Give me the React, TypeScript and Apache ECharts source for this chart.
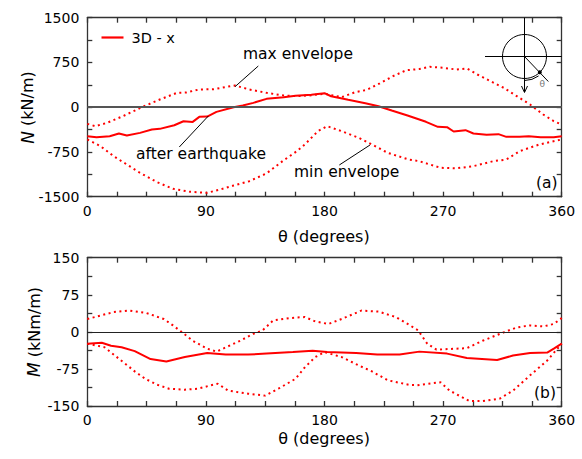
import React, { useEffect, useRef } from "react";
import * as echarts from "echarts";

// ---------- data ----------
const thetaNAfter = [0, 7, 17, 24, 30, 40, 49, 55, 66, 73, 80, 85, 91, 98, 111, 118, 126, 136, 149, 158, 170, 180, 185, 198, 211, 221, 231, 243, 257, 266, 273, 278, 287, 293, 303, 312, 318, 328, 335, 344, 354, 360];
const nAfter = [-486, -503, -486, -441, -474, -430, -374, -363, -302, -235, -246, -162, -157, -78, 0, 28, 73, 140, 168, 190, 207, 235, 184, 124, 67, 17, -55, -139, -245, -329, -335, -407, -385, -441, -463, -452, -497, -497, -486, -503, -503, -486];

const thetaNMax = [0, 6, 15, 27, 42, 55, 68, 75, 85, 96, 106, 112, 123, 136, 149, 159, 170, 180, 193, 203, 212, 222, 232, 242, 252, 260, 270, 280, 288, 296, 306, 316, 326, 336, 346, 354, 360];
const nMax = [-279, -318, -262, -151, 6, 129, 241, 246, 297, 302, 342, 364, 297, 241, 196, 185, 200, 225, 168, 250, 290, 400, 520, 620, 640, 677, 660, 632, 649, 548, 436, 325, 184, 45, -122, -235, -290];

const thetaNMin = [0, 10, 20, 30, 40, 53, 65, 78, 91, 101, 111, 123, 136, 149, 159, 165, 175, 182, 193, 206, 216, 228, 244, 252, 268, 280, 293, 308, 318, 328, 343, 360];
const nMin = [-541, -653, -821, -960, -1100, -1257, -1368, -1418, -1435, -1379, -1312, -1240, -1110, -890, -737, -625, -402, -318, -402, -513, -625, -765, -877, -905, -1016, -1025, -988, -905, -877, -737, -625, -541];

const thetaMAfter = [0, 11, 18, 26, 36, 48, 60, 74, 91, 105, 122, 136, 156, 171, 182, 204, 220, 237, 252, 273, 288, 311, 323, 336, 349, 354, 360];
const mAfter = [-24, -22, -28, -31, -39, -55, -60, -51, -43, -46, -46, -44, -41, -38, -41, -43, -46, -46, -40, -44, -53, -57, -48, -43, -42, -34, -24];

const thetaMMax = [0, 10, 20, 32, 45, 58, 65, 72, 80, 91, 98, 103, 116, 126, 133, 141, 154, 165, 173, 183, 193, 208, 221, 234, 245, 251, 258, 265, 288, 300, 316, 326, 336, 346, 354, 360];
const mMax = [26, 33, 40, 43, 38, 26, 13, -1, -18, -34, -40, -34, -18, -4, 3, 23, 28, 30, 21, 16, 26, 43, 41, 30, 13, 3, -24, -36, -33, -18, -1, 9, 13, 11, 16, 28];

const thetaMMin = [0, 13, 21, 29, 36, 44, 53, 62, 74, 84, 94, 99, 107, 117, 122, 135, 145, 158, 165, 173, 180, 193, 206, 216, 228, 244, 250, 268, 275, 290, 300, 313, 323, 336, 349, 360];
const mMin = [-24, -31, -48, -65, -80, -95, -107, -115, -117, -115, -108, -105, -119, -123, -125, -129, -115, -95, -72, -51, -41, -51, -68, -80, -98, -107, -108, -102, -119, -140, -140, -135, -119, -88, -58, -24];

const thetaTicks = { min: 0, max: 360, minor: 22.5, major: 90 };
const nTicks = { min: -1500, max: 1500, minor: 375, major: 750 };
const mTicks = { min: -150, max: 150, minor: 37.5, major: 75 };

const legendName = "3D - x";

// ---------- helpers ----------
const FONT = "DejaVu Sans";
const RED = "#ff0000";
const FRAME = "#333333";

const zip = (xs: number[], ys: number[]) => xs.map((x, i) => [x, ys[i]]);

function xAxis(gridIndex: number, position: string, showLabel: boolean) {
  return {
    type: "value",
    gridIndex,
    position,
    min: thetaTicks.min,
    max: thetaTicks.max,
    interval: thetaTicks.minor,
    axisLine: { show: true, onZero: false, lineStyle: { color: FRAME, width: 1.3 } },
    axisTick: { show: true, inside: true, length: 5, lineStyle: { color: FRAME, width: 1.3 } },
    splitLine: { show: false },
    axisLabel: {
      show: showLabel,
      margin: 7,
      fontSize: 14,
      fontFamily: FONT,
      color: "#000",
      formatter: (v: number) => (v % thetaTicks.major === 0 ? String(v) : ""),
    },
  };
}

function yAxis(gridIndex: number, position: string, showLabel: boolean, t: any) {
  return {
    type: "value",
    gridIndex,
    position,
    min: t.min,
    max: t.max,
    interval: t.minor,
    axisLine: { show: true, onZero: false, lineStyle: { color: FRAME, width: 1.3 } },
    axisTick: { show: true, inside: true, length: 5, lineStyle: { color: FRAME, width: 1.3 } },
    splitLine: { show: false },
    axisLabel: {
      show: showLabel,
      margin: 8,
      fontSize: 14,
      fontFamily: FONT,
      color: "#000",
      formatter: (v: number) => (v % t.major === 0 ? String(v) : ""),
    },
  };
}

function lineSeries(name: string, data: number[][], xi: number, yi: number, dotted: boolean, zeroLine?: any) {
  const s: any = {
    name,
    type: "line",
    xAxisIndex: xi,
    yAxisIndex: yi,
    data,
    symbol: "none",
    smooth: false,
    lineStyle: dotted ? { color: RED, width: 2, type: [2, 3.5] } : { color: RED, width: 2 },
    itemStyle: { color: RED },
    z: dotted ? 3 : 4,
  };
  if (zeroLine) {
    s.markLine = {
      silent: true,
      symbol: "none",
      label: { show: false },
      data: [{ yAxis: 0 }],
      lineStyle: { type: "solid", ...zeroLine },
    };
  }
  return s;
}

function txt(text: string, x: number, y: number, size: number, extra: any = {}) {
  return {
    type: "text",
    x,
    y,
    z: 10,
    style: {
      text,
      fontSize: size,
      fontFamily: FONT,
      fill: "#000",
      align: "left",
      verticalAlign: "middle",
      ...extra,
    },
  };
}

function ln(x1: number, y1: number, x2: number, y2: number, w = 1) {
  return { type: "line", z: 10, shape: { x1, y1, x2, y2 }, style: { stroke: "#000", lineWidth: w } };
}

function axisTitle(prefix: string, rest: string, x: number, y: number) {
  return {
    type: "text",
    x,
    y,
    rotation: Math.PI / 2,
    z: 10,
    style: {
      text: `{i|${prefix}} ${rest}`,
      fontSize: 16,
      fontFamily: FONT,
      fill: "#000",
      align: "center",
      verticalAlign: "middle",
      rich: { i: { fontStyle: "italic", fontSize: 17, fontFamily: FONT, fill: "#000" } },
    },
  };
}

export default function App() {
  const ref = useRef<HTMLDivElement>(null);

  useEffect(() => {
    if (!ref.current) return;
    const chart = echarts.init(ref.current, undefined, { renderer: "svg" });

    const cx = 524.5;
    const cy = 56.5;

    const option: any = {
      animation: false,
      backgroundColor: "#fff",
      grid: [
        { left: 87.3, top: 17.7, width: 474.4, height: 179 },
        { left: 87.3, top: 257.7, width: 474.4, height: 148.3 },
      ],
      xAxis: [xAxis(0, "bottom", true), xAxis(0, "top", false), xAxis(1, "bottom", true), xAxis(1, "top", false)],
      yAxis: [
        yAxis(0, "left", true, nTicks),
        yAxis(0, "right", false, nTicks),
        yAxis(1, "left", true, mTicks),
        yAxis(1, "right", false, mTicks),
      ],
      legend: {
        data: [{ name: legendName, icon: "rect" }],
        left: 101.5,
        top: 30,
        padding: 0,
        itemWidth: 22,
        itemHeight: 2.2,
        selectedMode: false,
        itemStyle: { color: RED },
        textStyle: { fontSize: 14.5, fontFamily: FONT, color: "#000", padding: [0, 0, 0, 3] },
      },
      series: [
        lineSeries(legendName, zip(thetaNAfter, nAfter), 0, 0, false, { color: "#555", width: 1.8 }),
        lineSeries("max envelope", zip(thetaNMax, nMax), 0, 0, true),
        lineSeries("min envelope", zip(thetaNMin, nMin), 0, 0, true),
        lineSeries("M after earthquake", zip(thetaMAfter, mAfter), 2, 2, false, { color: "#222", width: 1 }),
        lineSeries("M max envelope", zip(thetaMMax, mMax), 2, 2, true),
        lineSeries("M min envelope", zip(thetaMMin, mMin), 2, 2, true),
      ],
      graphic: [
        // annotations
        txt("max envelope", 243, 54, 15.5),
        ln(258.3, 66, 235, 86.7),
        txt("after earthquake", 136, 154.3, 15.5),
        ln(208.3, 116, 179.3, 147),
        txt("min envelope", 294, 172.3, 15.5),
        ln(370, 145, 339.3, 165),
        txt("(a)", 536, 182.7, 15.5),
        txt("(b)", 534, 393.3, 15.5),
        // axis titles
        axisTitle("N", "(kN/m)", 27.5, 107.5),
        axisTitle("M", "(kNm/m)", 34, 332),
        txt("θ (degrees)", 323.8, 236.7, 16, { align: "center" }),
        txt("θ (degrees)", 324, 438, 16, { align: "center" }),
        // inset sketch
        { type: "circle", z: 10, shape: { cx, cy, r: 22 }, style: { fill: "none", stroke: "#000", lineWidth: 1 } },
        ln(485, cy, 561.7, cy),
        ln(cx, 17.7, cx, 92),
        { type: "polyline", z: 10, shape: { points: [[cx - 3, 86], [cx, 92.5], [cx + 3, 86]] }, style: { fill: "none", stroke: "#000", lineWidth: 1 } },
        ln(cx, cy, 548.3, 81.5),
        { type: "circle", z: 11, shape: { cx: 539.8, cy: 72.2, r: 2 }, style: { fill: "#000" } },
        { type: "arc", z: 10, shape: { cx, cy, r: 24, startAngle: Math.PI * 0.3, endAngle: Math.PI / 2, clockwise: true }, style: { fill: "none", stroke: "#000", lineWidth: 1 } },
        txt("θ", 539.5, 84, 9, { fill: "#777" }),
      ],
    };

    chart.setOption(option);
    return () => chart.dispose();
  }, []);

  return (
    <div
      ref={ref}
      style={{ position: "fixed", left: 0, top: 0, width: 582, height: 459, background: "#fff" }}
    />
  );
}
